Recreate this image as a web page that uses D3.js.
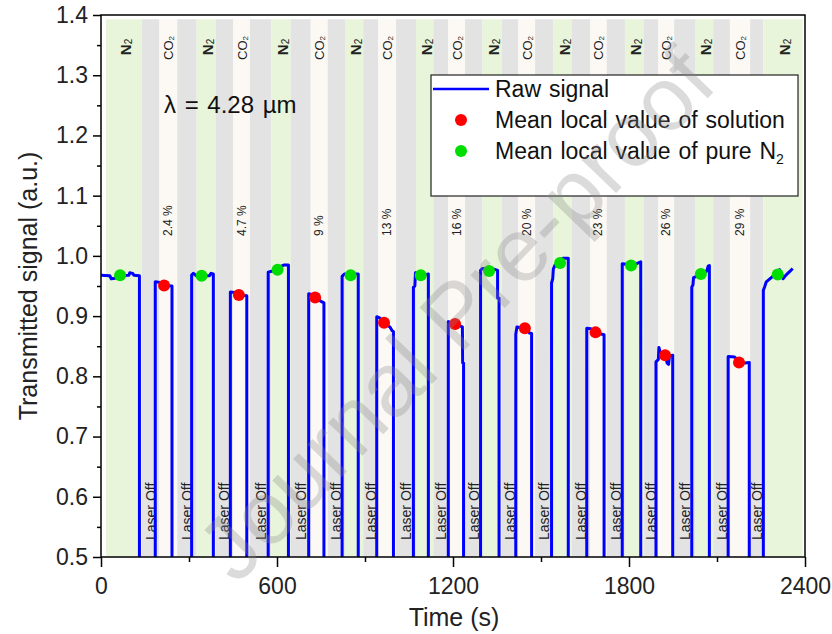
<!DOCTYPE html>
<html>
<head>
<meta charset="utf-8">
<script src="https://cdn.jsdelivr.net/npm/d3@7"></script>
<style>
  body { margin: 0; background: #fff; }
  svg { font-family: "Liberation Sans", Arial, sans-serif; }
</style>
</head>
<body>
<div id="chart"></div>
<script>
// band edges (s) : N2 / laser off / CO2 solution / laser off ... repeating
const bandEdges = [17, 139, 199, 260, 326, 391, 451, 508, 580, 647, 715, 773, 832, 894, 945, 1006,
  1074, 1133, 1184, 1241, 1300, 1366, 1423, 1480, 1542, 1605, 1667, 1724, 1786, 1851, 1900, 1954,
  2025, 2087, 2144, 2213, 2258, 2392];
const bandCycle = ['N2', 'off', 'CO2', 'off'];
const co2Labels = ['2.4 %', '4.7 %', '9 %', '13 %', '16 %', '20 %', '23 %', '26 %', '29 %'];

// raw signal, one array per laser-on period [time, signal]
const pulses = [
  [[0, 0.968], [30, 0.967], [35, 0.962], [48, 0.963], [55, 0.967], [95, 0.968], [98, 0.972], [108, 0.971], [112, 0.968], [131, 0.967]],
  [[185, 0.957], [201, 0.956], [208, 0.951], [242, 0.950]],
  [[309, 0.968], [315, 0.971], [325, 0.967], [370, 0.967], [375, 0.971], [383, 0.970]],
  [[441, 0.940], [460, 0.939], [470, 0.935], [497, 0.934]],
  [[570, 0.973], [585, 0.975], [600, 0.979], [615, 0.983], [625, 0.985], [639, 0.985]],
  [[708, 0.937], [725, 0.935], [740, 0.930], [748, 0.925], [760, 0.922]],
  [[822, 0.966], [830, 0.970], [877, 0.970]],
  [[940, 0.899], [950, 0.897], [965, 0.888], [985, 0.882], [992, 0.876], [997, 0.874]],
  [[1065, 0.948], [1070, 0.950], [1072, 0.972], [1085, 0.970], [1100, 0.967], [1116, 0.970]],
  [[1184, 0.891], [1200, 0.888], [1215, 0.885], [1232, 0.882], [1233, 0.822], [1236, 0.822]],
  [[1294, 0.976], [1300, 0.979], [1340, 0.978], [1352, 0.976], [1352, 0.930], [1357, 0.930]],
  [[1414, 0.870], [1418, 0.882], [1440, 0.880], [1455, 0.878], [1460, 0.872], [1468, 0.871]],
  [[1536, 0.955], [1540, 0.962], [1542, 0.978], [1548, 0.985], [1565, 0.990], [1575, 0.996], [1593, 0.996]],
  [[1656, 0.880], [1670, 0.879], [1690, 0.872], [1715, 0.869]],
  [[1777, 0.987], [1790, 0.986], [1810, 0.984], [1830, 0.988], [1840, 0.990]],
  [[1892, 0.824], [1900, 0.828], [1902, 0.848], [1906, 0.840], [1915, 0.836], [1925, 0.834], [1930, 0.822], [1935, 0.820], [1938, 0.834], [1949, 0.835]],
  [[2014, 0.948], [2018, 0.952], [2020, 0.964], [2030, 0.966], [2050, 0.970], [2065, 0.975], [2070, 0.983], [2074, 0.984]],
  [[2138, 0.833], [2160, 0.832], [2175, 0.826], [2195, 0.822], [2210, 0.823]],
  [[2258, 0.943], [2262, 0.948], [2268, 0.957], [2280, 0.962], [2290, 0.966], [2305, 0.968], [2313, 0.977], [2320, 0.970], [2325, 0.962], [2335, 0.968], [2350, 0.975], [2358, 0.979]]
];

// mean local values
const n2Time = [65, 343, 602, 851, 1090, 1323, 1565, 1807, 2045, 2307];
const n2Mean = [0.968, 0.967, 0.977, 0.968, 0.968, 0.975, 0.988, 0.984, 0.970, 0.969];
const solTime = [215, 470, 730, 965, 1207, 1445, 1686, 1923, 2175];
const solMean = [0.951, 0.935, 0.931, 0.889, 0.887, 0.880, 0.873, 0.835, 0.823];

const xTicks = [0, 600, 1200, 1800, 2400];
const xMinor = [300, 900, 1500, 2100];
const yTicks = [0.5, 0.6, 0.7, 0.8, 0.9, 1.0, 1.1, 1.2, 1.3, 1.4];
const yMinor = [0.55, 0.65, 0.75, 0.85, 0.95, 1.05, 1.15, 1.25, 1.35];

const width = 832, height = 634;
const offLevel = 0.3;
const bandTop = 1.393;

const x = d3.scaleLinear().domain([0, 2400]).range([101, 805]);
const y = d3.scaleLinear().domain([0.5, 1.4]).range([557, 15]);

const svg = d3.select('#chart').append('svg')
  .attr('width', width)
  .attr('height', height);

svg.append('defs').append('clipPath')
  .attr('id', 'plot-clip')
  .append('rect')
  .attr('x', x(0)).attr('y', y(1.4))
  .attr('width', x(2400) - x(0)).attr('height', y(0.5) - y(1.4));

const bandColor = { N2: '#e8f5da', off: '#e3e3e3', CO2: '#fcf9f4' };
const bands = d3.range(bandEdges.length - 1).map(i => ({
  kind: bandCycle[i % 4], t0: bandEdges[i], t1: bandEdges[i + 1]
}));

svg.append('g')
  .selectAll('rect')
  .data(bands)
  .join('rect')
  .attr('x', d => x(d.t0))
  .attr('y', y(bandTop))
  .attr('width', d => x(d.t1) - x(d.t0))
  .attr('height', y(0.5) - y(bandTop))
  .attr('fill', d => bandColor[d.kind]);

// band labels on top
const mid = d => x((d.t0 + d.t1) / 2);

const n2Lab = svg.append('g').selectAll('text')
  .data(bands.filter(d => d.kind === 'N2'))
  .join('text')
  .attr('transform', d => `translate(${mid(d) + 1},47) rotate(-90)`)
  .attr('text-anchor', 'middle')
  .attr('dominant-baseline', 'central')
  .attr('fill', '#222');
n2Lab.append('tspan').attr('font-weight', 'bold').attr('font-size', 15).text('N');
n2Lab.append('tspan').attr('font-size', 10).attr('dy', 3).text('2');

const co2Lab = svg.append('g').selectAll('text')
  .data(bands.filter(d => d.kind === 'CO2'))
  .join('text')
  .attr('transform', d => `translate(${mid(d)},48) rotate(-90)`)
  .attr('text-anchor', 'middle')
  .attr('dominant-baseline', 'central')
  .attr('fill', '#222');
co2Lab.append('tspan').attr('font-size', 13).text('CO');
co2Lab.append('tspan').attr('font-size', 8).attr('dy', 3).text('2');

svg.append('g').selectAll('text')
  .data(bands.filter(d => d.kind === 'CO2'))
  .join('text')
  .attr('transform', d => `translate(${mid(d)},236) rotate(-90)`)
  .attr('dominant-baseline', 'central')
  .attr('font-size', 12)
  .attr('fill', '#222')
  .text((d, i) => co2Labels[i]);

svg.append('g').selectAll('text')
  .data(bands.filter(d => d.kind === 'off'))
  .join('text')
  .attr('transform', d => `translate(${mid(d)},540) rotate(-90)`)
  .attr('dominant-baseline', 'central')
  .attr('font-size', 14)
  .attr('fill', '#222')
  .text('Laser Off');

// raw signal with laser-off drops
const rawSignal = [];
pulses.forEach((p, i) => {
  if (i > 0) rawSignal.push([p[0][0], offLevel]);
  p.forEach(pt => rawSignal.push(pt));
  if (i < pulses.length - 1) rawSignal.push([p[p.length - 1][0], offLevel]);
});

const line = d3.line()
  .x(d => x(d[0]))
  .y(d => y(d[1]));

svg.append('path')
  .datum(rawSignal)
  .attr('clip-path', 'url(#plot-clip)')
  .attr('fill', 'none')
  .attr('stroke', '#0000ff')
  .attr('stroke-width', 3)
  .attr('stroke-linejoin', 'round')
  .attr('d', line);

svg.append('g')
  .selectAll('circle')
  .data(solTime.map((t, i) => [t, solMean[i]]))
  .join('circle')
  .attr('cx', d => x(d[0]))
  .attr('cy', d => y(d[1]))
  .attr('r', 6)
  .attr('fill', '#ff0000');

svg.append('g')
  .selectAll('circle')
  .data(n2Time.map((t, i) => [t, n2Mean[i]]))
  .join('circle')
  .attr('cx', d => x(d[0]))
  .attr('cy', d => y(d[1]))
  .attr('r', 6)
  .attr('fill', '#00dd00');

// axes
const xAxis = svg.append('g')
  .attr('transform', `translate(0,${y(0.5)})`)
  .call(d3.axisBottom(x).tickValues(xTicks).tickSize(10).tickPadding(11).tickFormat(d3.format('d')));
svg.append('g')
  .attr('transform', `translate(0,${y(0.5)})`)
  .call(d3.axisBottom(x).tickValues(xMinor).tickSize(5).tickFormat(''))
  .select('.domain').remove();

const yAxis = svg.append('g')
  .attr('transform', `translate(${x(0)},0)`)
  .call(d3.axisLeft(y).tickValues(yTicks).tickSize(8).tickPadding(5).tickFormat(d3.format('.1f')));
svg.append('g')
  .attr('transform', `translate(${x(0)},0)`)
  .call(d3.axisLeft(y).tickValues(yMinor).tickSize(4).tickFormat(''))
  .select('.domain').remove();

svg.selectAll('.tick line').attr('stroke', '#000').attr('stroke-width', 1.5);
xAxis.select('.domain').remove();
yAxis.select('.domain').remove();
svg.selectAll('.tick text').attr('font-size', 23).attr('fill', '#222')
  .attr('font-family', '"Liberation Sans", Arial, sans-serif');

svg.append('rect')
  .attr('x', x(0)).attr('y', y(1.4))
  .attr('width', x(2400) - x(0)).attr('height', y(0.5) - y(1.4))
  .attr('fill', 'none')
  .attr('stroke', '#000')
  .attr('stroke-width', 1.5);

svg.append('text')
  .attr('x', x(1200) + 1)
  .attr('y', 626)
  .attr('text-anchor', 'middle')
  .attr('font-size', 25)
  .attr('fill', '#222')
  .text('Time (s)');

svg.append('text')
  .attr('transform', `translate(37,${(y(0.5) + y(1.4)) / 2}) rotate(-90)`)
  .attr('text-anchor', 'middle')
  .attr('font-size', 25)
  .attr('fill', '#222')
  .text('Transmitted signal (a.u.)');

svg.append('text')
  .attr('x', 164)
  .attr('y', 113)
  .attr('font-size', 24)
  .attr('word-spacing', 2)
  .attr('fill', '#111')
  .text('λ = 4.28 µm');

// legend
const legend = svg.append('g').attr('transform', 'translate(431,75)');
legend.append('rect')
  .attr('width', 367).attr('height', 121)
  .attr('fill', '#fff')
  .attr('stroke', '#222')
  .attr('stroke-width', 1.2);
legend.append('line')
  .attr('x1', 2).attr('x2', 58).attr('y1', 14).attr('y2', 14)
  .attr('stroke', '#0000ff').attr('stroke-width', 2.5);
legend.append('circle').attr('cx', 30).attr('cy', 45).attr('r', 6).attr('fill', '#ff0000');
legend.append('circle').attr('cx', 30).attr('cy', 76).attr('r', 6).attr('fill', '#00dd00');
const legText = ['Raw signal', 'Mean local value of solution', 'Mean local value of pure N'];
legend.selectAll('text.lt')
  .data(legText)
  .join('text')
  .attr('class', 'lt')
  .attr('x', 64)
  .attr('y', (d, i) => 22 + i * 31)
  .attr('font-size', 23)
  .attr('word-spacing', 1.5)
  .attr('fill', '#111')
  .text(d => d)
  .filter((d, i) => i === 2)
  .append('tspan').attr('font-size', 14).attr('dy', 5).text('2');

// watermark
svg.append('text')
  .attr('transform', 'translate(478,336) rotate(-46)')
  .attr('text-anchor', 'middle')
  .attr('font-size', 90)
  .attr('fill', '#888')
  .attr('fill-opacity', 0.3)
  .text('Journal Pre-proof');
</script>
</body>
</html>
